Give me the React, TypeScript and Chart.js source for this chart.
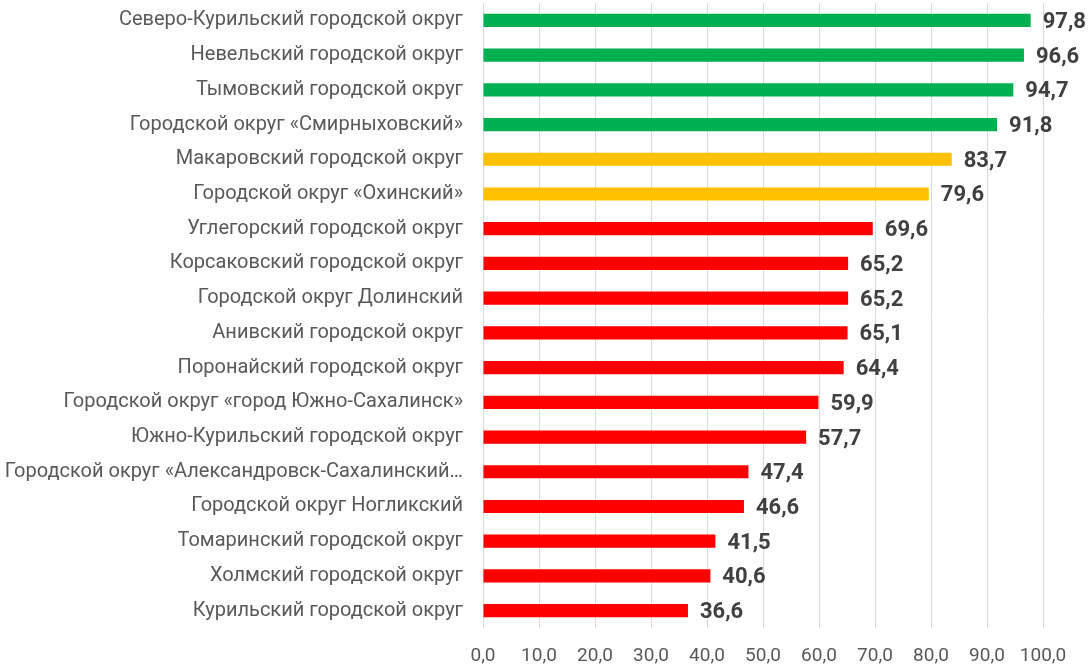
import React, { useEffect, useRef } from "react";
import { Chart, registerables } from "chart.js";

Chart.register(...registerables);

const categories = [
  "Северо-Курильский городской округ",
  "Невельский городской округ",
  "Тымовский городской округ",
  "Городской округ «Смирныховский»",
  "Макаровский городской округ",
  "Городской округ «Охинский»",
  "Углегорский городской округ",
  "Корсаковский городской округ",
  "Городской округ Долинский",
  "Анивский городской округ",
  "Поронайский городской округ",
  "Городской округ «город Южно-Сахалинск»",
  "Южно-Курильский городской округ",
  "Городской округ «Александровск-Сахалинский…",
  "Городской округ Ногликский",
  "Томаринский городской округ",
  "Холмский городской округ",
  "Курильский городской округ",
];

const values = [97.8, 96.6, 94.7, 91.8, 83.7, 79.6, 69.6, 65.2, 65.2, 65.1, 64.4, 59.9, 57.7, 47.4, 46.6, 41.5, 40.6, 36.6];

const GREEN = "#00B050";
const YELLOW = "#FFC000";
const RED = "#FF0000";
const barColors = values.map((v) => (v >= 90 ? GREEN : v >= 75 ? YELLOW : RED));

const xTicks = [0, 10, 20, 30, 40, 50, 60, 70, 80, 90, 100];

const fmt = (v: number) => v.toFixed(1).replace(".", ",");

const valueLabels = {
  id: "valueLabels",
  afterDatasetsDraw(chart: any) {
    const ctx = chart.ctx;
    const meta = chart.getDatasetMeta(0);
    ctx.save();
    ctx.font = "bold 22px Roboto";
    ctx.fillStyle = "#404040";
    ctx.textAlign = "left";
    ctx.textBaseline = "middle";
    meta.data.forEach((bar: any, i: number) => {
      ctx.fillText(fmt(values[i]), bar.x + 12, bar.y + 2);
    });
    ctx.restore();
  },
};

export default function App() {
  const ref = useRef<HTMLCanvasElement>(null);
  useEffect(() => {
    document.body.style.margin = "0";
    const chart = new Chart(ref.current!, {
      type: "bar",
      data: {
        labels: categories,
        datasets: [
          {
            data: values,
            backgroundColor: barColors,
            barPercentage: 0.38,
            categoryPercentage: 1,
          },
        ],
      },
      options: {
        indexAxis: "y",
        animation: false,
        responsive: false,
        layout: { padding: { top: 3, right: 49, left: 0, bottom: 0 } },
        plugins: { legend: { display: false }, tooltip: { enabled: false } },
        scales: {
          x: {
            min: 0,
            max: 100,
            afterBuildTicks: (scale: any) => {
              scale.ticks = xTicks.map((v) => ({ value: v }));
            },
            afterFit: (scale: any) => {
              scale.height = 39;
              scale.paddingLeft = 0;
              scale.paddingRight = 0;
            },
            grid: { color: "#D9D9D9", drawTicks: false, lineWidth: 1 },
            border: { display: false },
            ticks: {
              padding: 17,
              color: "#595959",
              font: { family: "Roboto", size: 19 },
              callback: (v: any) => fmt(Number(v)),
            },
          },
          y: {
            afterFit: (scale: any) => {
              scale.width = 483;
              scale.paddingTop = 0;
              scale.paddingBottom = 0;
            },
            grid: { display: false, drawTicks: false },
            border: { display: false },
            ticks: {
              padding: 20,
              color: "#595959",
              font: { family: "Roboto", size: 20 },
              autoSkip: false,
            },
          },
        },
      },
      plugins: [valueLabels],
    });
    return () => chart.destroy();
  }, []);
  return (
    <div style={{ position: "absolute", left: 0, top: 0, width: 1092, height: 667, background: "#fff" }}>
      <canvas ref={ref} width={1092} height={667} />
    </div>
  );
}
